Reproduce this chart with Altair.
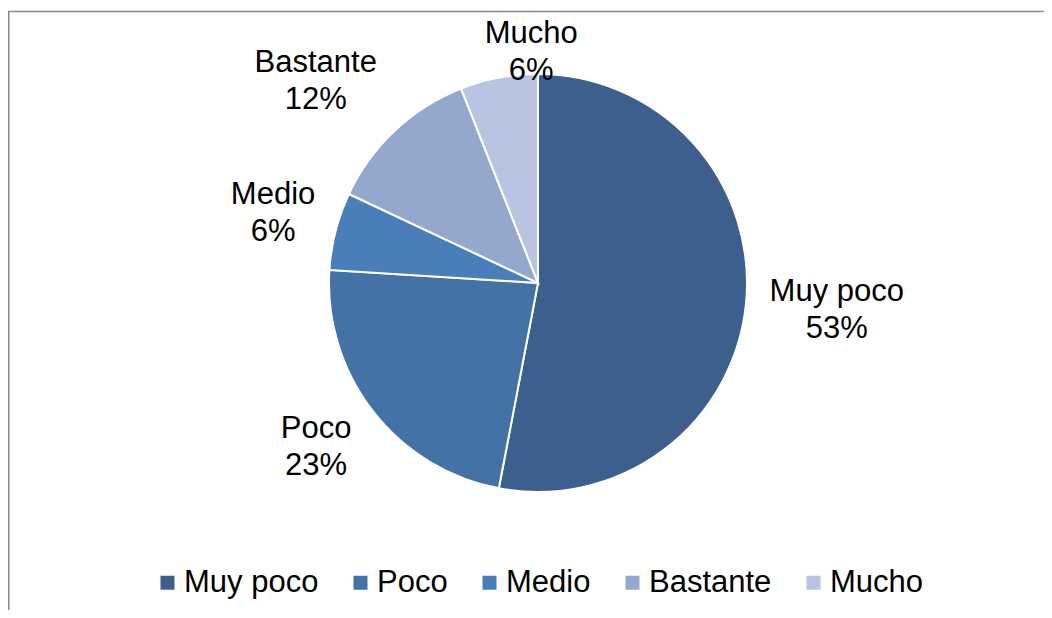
import altair as alt
import pandas as pd

# ---- data ----
categories = ["Muy poco", "Poco", "Medio", "Bastante", "Mucho"]
values = [53, 23, 6, 12, 6]
colors = ["#3C5F8E", "#4472A7", "#4A7EBB", "#94A8CE", "#B9C5E0"]

# ---- layout / style ----
W, H = 1036, 602
CX, CY, R = 530, 275, 209
FONT = "Liberation Sans"
FS = 31
LH = 37
# Excel-style "best fit" label placement: radius (px) and angular nudge (deg)
LABEL_R = {"Muy poco": 300, "Poco": 276, "Medio": 274, "Bastante": 300, "Mucho": 231}
LABEL_DT = {"Muy poco": -0.2, "Poco": 1.3, "Medio": 0.4, "Bastante": -4.6, "Mucho": 9.1}

df = pd.DataFrame({"cat": categories, "value": values, "order": list(range(len(categories)))})
df["label"] = [f"{c}\n{v}%" for c, v in zip(categories, values)]
df["lr"] = df["cat"].map(LABEL_R)
df["dt"] = df["cat"].map(LABEL_DT)

color = alt.Color(
    "cat:N",
    scale=alt.Scale(domain=categories, range=colors),
    legend=alt.Legend(
        orient="none",
        legendX=144,
        legendY=559,
        direction="horizontal",
        title=None,
        symbolType="square",
        symbolSize=196,
        symbolStrokeWidth=0,
        symbolOpacity=1,
        labelFontSize=FS,
        labelFont=FONT,
        labelColor="black",
        labelOffset=1,
        columnPadding=26,
        labelLimit=0,
        padding=0,
    ),
)

frame = alt.Chart(pd.DataFrame({"a": [0]})).mark_rect(
    filled=False, stroke="#898989", strokeWidth=1.5
).encode(
    x=alt.value(0.75), x2=alt.value(3000), y=alt.value(3.5), y2=alt.value(3000)
)

pie = alt.Chart(df).mark_arc(outerRadius=R, stroke="white", strokeWidth=2).encode(
    theta=alt.Theta("value:Q", stack=True),
    color=color,
    order=alt.Order("order:Q"),
    x=alt.value(CX),
    y=alt.value(CY),
)

labels = (
    alt.Chart(df)
    .transform_window(cum="sum(value)", sort=[alt.SortField("order")], frame=[None, 0])
    .transform_joinaggregate(total="sum(value)")
    .transform_calculate(
        ang="2*PI*(datum.cum - datum.value/2)/datum.total + datum.dt*PI/180",
        lx=f"{CX} + datum.lr*sin(datum.ang)",
        ly=f"{CY} - datum.lr*cos(datum.ang) - {LH / 2}",
    )
    .mark_text(
        font=FONT, fontSize=FS, lineBreak="\n", lineHeight=LH,
        align="center", baseline="middle", color="black",
    )
    .encode(
        x=alt.X("lx:Q", scale=None, axis=None),
        y=alt.Y("ly:Q", scale=None, axis=None),
        text="label:N",
    )
)

chart = (
    alt.layer(frame, pie, labels)
    .properties(width=W, height=H, padding=0, autosize=alt.AutoSizeParams(type="none"),
                background="white")
    .configure_view(stroke=None)
)

chart.save("out.html", embed_options={"renderer": "svg", "actions": False})
